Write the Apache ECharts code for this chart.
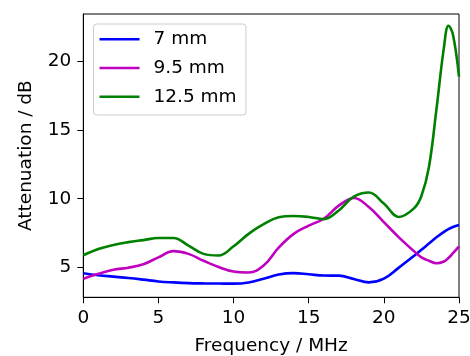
<!DOCTYPE html>
<html>
<head>
<meta charset="utf-8">
<script src="https://cdn.jsdelivr.net/npm/echarts@6/dist/echarts.min.js"></script>
<style>
html,body{margin:0;padding:0;background:#fff;}
#c{width:470px;height:356px;}
</style>
</head>
<body>
<div id="c"></div>
<script>
const freq = [0,1,2,3,4,5,6,7,8,9,10,11,12,13,14,15,16,17,18,19,20,21,22,22.5,23,23.5,24,24.3,24.6,25];
const att7 = [4.6,4.45,4.35,4.25,4.13,4.0,3.93,3.88,3.86,3.85,3.84,3.93,4.2,4.5,4.6,4.52,4.43,4.42,4.18,3.93,4.2,5.0,5.85,6.3,6.75,7.2,7.6,7.8,7.95,8.1];
const att95 = [4.2,4.55,4.85,5.0,5.25,5.75,6.2,6.0,5.5,5.05,4.72,4.65,5.15,6.45,7.45,8.05,8.55,9.5,10.05,9.4,8.3,7.2,6.2,5.75,5.5,5.32,5.45,5.7,6.05,6.55];
const att125 = [5.9,6.35,6.65,6.85,7.0,7.15,7.15,6.6,6.0,5.88,6.55,7.45,8.15,8.65,8.75,8.68,8.52,9.15,10.15,10.45,9.65,8.68,9.3,10.2,12.3,16.5,21.0,22.55,21.9,18.85];
const seriesNames = ['7 mm','9.5 mm','12.5 mm'];
const yTicks = [5,10,15,20];

const FONT = 'DejaVu Sans';
const chart = echarts.init(document.getElementById('c'));
function mk(name, vals, color){
  return {
    name: name, type: 'line', smooth: 0.4, symbol: 'none', showSymbol: false,
    data: freq.map((f,i)=>[f, vals[i]]),
    lineStyle: {color: color, width: 2.6}, itemStyle: {color: color}
  };
}
chart.setOption({
  animation: false,
  grid: {left: 83.3, right: 11, top: 14, bottom: 58.7, show: true, borderColor: '#000', borderWidth: 1, backgroundColor: 'transparent', containLabel: false, outerBoundsMode: 'none'},
  legend: {
    orient: 'vertical', left: 93.5, top: 24,
    data: seriesNames,
    icon: 'rect',
    itemWidth: 40, itemHeight: 2.6, itemGap: 8.7,
    padding: [5.3, 9.3, 8.3, 6],
    backgroundColor: 'rgba(255,255,255,0.8)', borderColor: '#cccccc', borderWidth: 1, borderRadius: 3,
    textStyle: {fontFamily: FONT, fontSize: 18.5, color: '#000', lineHeight: 20, padding: [0,0,0,9]}
  },
  xAxis: {
    type: 'value', min: 0, max: 25, interval: 5,
    name: 'Frequency / MHz', nameLocation: 'middle', nameGap: 39.4,
    nameTextStyle: {fontFamily: FONT, fontSize: 18.5, color: '#000'},
    axisLine: {show: true, lineStyle: {color: '#000', width: 1}},
    axisTick: {show: true, length: 6, lineStyle: {color: '#000'}},
    axisLabel: {fontFamily: FONT, fontSize: 18.5, color: '#000', margin: 11},
    splitLine: {show: false}
  },
  yAxis: {
    type: 'value', min: 2.85, max: 23.4,
    name: 'Attenuation / dB', nameLocation: 'middle', nameGap: 47.3,
    nameTextStyle: {fontFamily: FONT, fontSize: 18.5, color: '#000'},
    axisLine: {show: true, lineStyle: {color: '#000', width: 1}},
    axisTick: {show: true, length: 6, lineStyle: {color: '#000'}, customValues: yTicks},
    axisLabel: {fontFamily: FONT, fontSize: 18.5, color: '#000', margin: 12, customValues: yTicks},
    splitLine: {show: false}
  },
  series: [
    mk(seriesNames[0], att7, '#0000ff'),
    mk(seriesNames[1], att95, '#bf00bf'),
    mk(seriesNames[2], att125, '#008000')
  ]
});
</script>
</body>
</html>
